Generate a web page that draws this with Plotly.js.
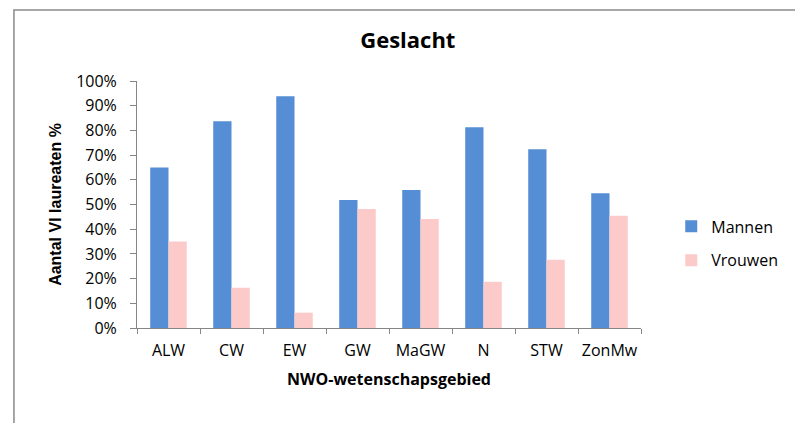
<!DOCTYPE html>
<html>
<head>
<meta charset="utf-8">
<script src="https://cdn.plot.ly/plotly-3.0.1.min.js"></script>
<style>
html,body{margin:0;padding:0;background:#fff;}
#chart{width:795px;height:423px;}
</style>
</head>
<body>
<div id="chart"></div>
<script>
const categories = ["ALW", "CW", "EW", "GW", "MaGW", "N", "STW", "ZonMw"];
const mannen = [0.65, 0.837, 0.938, 0.518, 0.559, 0.813, 0.724, 0.546];
const vrouwen = [0.35, 0.163, 0.062, 0.482, 0.441, 0.187, 0.276, 0.454];
const seriesNames = ["Mannen", "Vrouwen"];
const yTickVals = [0, 0.1, 0.2, 0.3, 0.4, 0.5, 0.6, 0.7, 0.8, 0.9, 1.0];

const traces = [
  {type: "bar", name: seriesNames[0], x: categories, y: mannen, legendgroup: "m",
   marker: {color: "#558ED5"}},
  {type: "bar", name: seriesNames[1], x: categories, y: vrouwen, legendgroup: "v",
   marker: {color: "#FDCACA"}}
];

const layout = {
  width: 795, height: 423,
  margin: {l: 137, r: 146, t: 81, b: 95},
  paper_bgcolor: "#ffffff", plot_bgcolor: "#ffffff",
  barmode: "group", bargap: 0.42, bargroupgap: 0,
  showlegend: true,
  title: {text: "<b>Geslacht</b>", xref: "container", x: 0.513, xanchor: "center",
          yref: "container", y: 0.905, yanchor: "middle",
          font: {family: "Open Sans", size: 22, color: "#000"}},
  legend: {x: 1.06, xanchor: "left", y: 0.48, yanchor: "top",
           traceorder: "grouped", tracegroupgap: 10,
           font: {family: "Open Sans", size: 16, color: "#000"}, bgcolor: "rgba(0,0,0,0)"},
  xaxis: {type: "category", showgrid: false, zeroline: false,
          showline: true, linecolor: "#868686", linewidth: 1,
          ticks: "outside", tickson: "boundaries", ticklen: 5, tickcolor: "#868686",
          tickangle: 0,
          tickfont: {family: "Open Sans", size: 16, color: "#000"},
          ticklabelstandoff: 8,
          title: {text: "<b>NWO-wetenschapsgebied</b>", standoff: 13,
                  font: {family: "Open Sans", size: 16, color: "#000"}}},
  yaxis: {range: [0, 1], tickvals: yTickVals, tickformat: ".0%", showgrid: false, zeroline: false,
          showline: true, linecolor: "#868686", linewidth: 1,
          ticks: "outside", ticklen: 6, tickcolor: "#868686",
          tickfont: {family: "Open Sans", size: 16, color: "#000"},
          ticklabelstandoff: 10,
          title: {text: "<b>Aantal VI laureaten %</b>", standoff: 10,
                  font: {family: "Liberation Sans", size: 16, color: "#000"}}},
  shapes: [{type: "rect", xref: "paper", yref: "paper",
            x0: (12 - 137) / 512, x1: 1.6, y0: -1, y1: (328 - 10) / 247,
            line: {color: "#8a8a8a", width: 1.5}, fillcolor: "rgba(0,0,0,0)", layer: "below"}]
};

Plotly.newPlot("chart", traces, layout, {displayModeBar: false, staticPlot: true});
</script>
</body>
</html>
